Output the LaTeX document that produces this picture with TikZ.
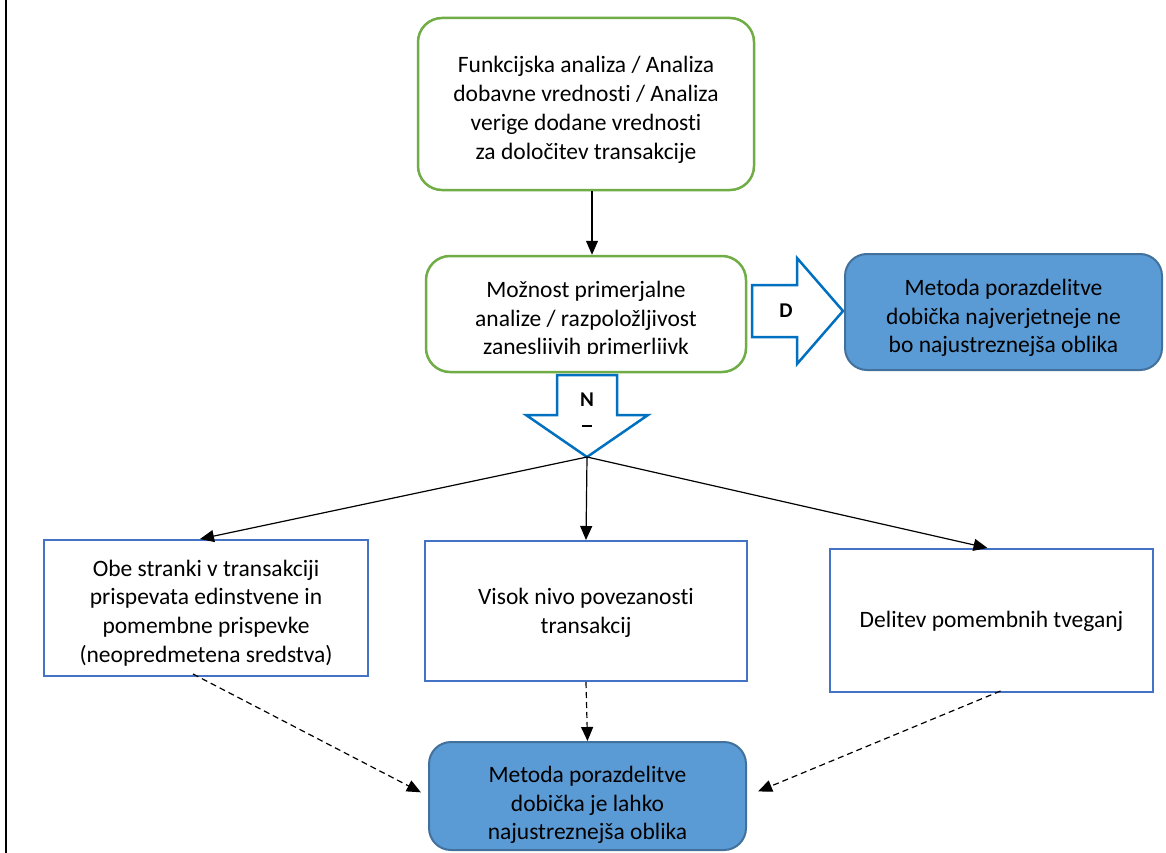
\documentclass[tikz,border=0pt]{standalone}
\usepackage{fontspec}
\setmainfont[Ligatures=NoCommon]{Carlito}
\usetikzlibrary{arrows.meta,calc}
\definecolor{gborder}{HTML}{70AD47}
\definecolor{bline}{HTML}{4472C4}
\definecolor{barrow}{HTML}{0070C0}
\definecolor{bfill}{HTML}{5B9BD5}
\definecolor{bdark}{HTML}{41719C}
\tikzset{
  txt/.style={font=\fontsize{23.5}{28.8}\selectfont, align=center, text=black},
  greenbox/.style={draw=gborder, line width=2.5pt, rounded corners=24pt, inner sep=0pt},
  bluebox/.style={draw=bline, line width=2pt, inner sep=0pt},
  fillbox/.style={draw=bdark, fill=bfill, line width=2pt, rounded corners=22pt, inner sep=0pt},
  blockarrow/.style={draw=barrow, line width=2.5pt, fill=white, line join=miter},
  conn/.style={draw=black, line width=1.2pt, -{Triangle[length=14pt,width=12pt]}},
  dconn/.style={conn, dashed, dash pattern=on 6pt off 4pt},
  blabel/.style={font=\fontsize{21}{24}\selectfont\bfseries},
}
\begin{document}
\begin{tikzpicture}[x=1pt,y=-1pt]
\useasboundingbox (0,0) rectangle (1166,853);
\fill[white] (0,0) rectangle (1166,853);
\draw[line width=2pt] (6,0) -- (6,853);

% top box
\node[greenbox, minimum width=336pt, minimum height=172pt] (top) at (586,104) {};
\node[txt] at (586,110) {Funkcijska analiza / Analiza\\dobavne vrednosti / Analiza\\verige dodane vrednosti\\za določitev transakcije};

% box 2
\node[greenbox, minimum width=320pt, minimum height=116pt] (poss) at (586,314) {};
\begin{scope}
\clip (430,260) rectangle (742,353);
\node[txt] at (586,320) {Možnost primerjalne\\analize / razpoložljivost\\zanesljivih primerljivk};
\end{scope}

% right block arrow D
\draw[blockarrow] (752,285) -- (797,285) -- (797,258) -- (843,311) -- (797,364) -- (797,337) -- (752,337) -- cycle;
\node[blabel] (dlab) at (786,311) {D};

% right filled box
\node[fillbox, minimum width=317pt, minimum height=116pt] (nonbox) at (1003.5,312) {};
\node[txt] at (1003.5,318) {Metoda porazdelitve\\dobička najverjetneje ne\\bo najustreznejša oblika};

% down block arrow N
\draw[blockarrow] (557,375) -- (617,375) -- (617,415) -- (648,415) -- (587,457) -- (526,415) -- (557,415) -- cycle;
\coordinate (ntip) at (587,457);
\node[blabel] (nlab) at (587,400) {N};
\draw[line width=2.2pt] (582,426) -- (592,426);

% bottom row boxes
\node[bluebox, minimum width=324pt, minimum height=136pt] (lbox) at (206,608) {};
\node[txt] at (206,613) {Obe stranki v transakciji\\prispevata edinstvene in\\pomembne prispevke\\(neopredmetena sredstva)};

\node[bluebox, minimum width=322pt, minimum height=140pt] (mbox) at (586,611) {};
\node[txt] at (586,613) {Visok nivo povezanosti\\transakcij};

\node[bluebox, minimum width=323pt, minimum height=143pt] (rbox) at (991.5,620.5) {};
\node[txt] at (991.5,621) {Delitev pomembnih tveganj};

% bottom filled box
\node[fillbox, minimum width=317pt, minimum height=108pt] (bbox) at (587.5,796) {};
\node[txt] at (587.5,805) {Metoda porazdelitve\\dobička je lahko\\najustreznejša oblika};

% connectors
\draw[conn] ([xshift=6pt]top.south) -- ([xshift=6pt]poss.north);
\draw[conn] (ntip) -- ([xshift=-6pt]lbox.north);
\draw[conn] (ntip) -- (mbox.north);
\draw[conn] (ntip) -- ([xshift=-4pt]rbox.north);

\draw[dconn, shorten >=8pt] ([xshift=-13pt, yshift=3pt]lbox.south) -- (bbox.west);
\draw[dconn] (mbox.south) -- (bbox.north);
\draw[dconn, shorten >=12pt] ([xshift=9pt, yshift=2pt]rbox.south) -- (bbox.east);
\end{tikzpicture}
\end{document}
